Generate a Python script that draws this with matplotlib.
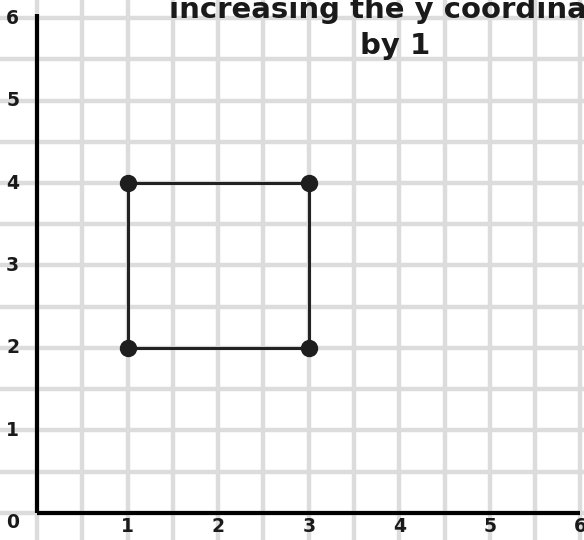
import numpy as np
import matplotlib.pyplot as plt

# vertices of the square (after increasing y by 1)
sq_x = [1, 1, 3, 3]
sq_y = [2, 4, 4, 2]
x_ticks = [1, 2, 3, 4, 5, 6]
y_ticks = [1, 2, 3, 4, 5, 6]
title = 'increasing the y coordinate\nby 1'

fig = plt.figure(figsize=(5.84, 5.40), dpi=100)
ax = fig.add_axes([0, 0, 1, 1])
ax.set_xlim(-0.41, 6.04)
ax.set_ylim(-0.33, 6.22)
ax.axis('off')

# grid every half unit, running past the axes
for g in np.arange(-0.5, 6.6, 0.5):
    ax.axvline(g, color='#dcdcdd', lw=3.2, zorder=0)
    ax.axhline(g, color='#dcdcdd', lw=3.2, zorder=0)

# axes lines
ax.plot([0, 0], [0, 6.05], color='black', lw=3, solid_capstyle='butt', zorder=2)
ax.plot([0, 6], [0, 0], color='black', lw=3, solid_capstyle='butt', zorder=2)

font = dict(fontsize=13.5, fontweight='bold', color='#1a1a1a', family='DejaVu Sans')
for t in x_ticks:
    ax.text(t, -0.17, str(t), ha='center', va='center', **font)
for t in y_ticks:
    ax.text(-0.27, t, str(t), ha='center', va='center', **font)
ax.text(-0.27, -0.12, '0', ha='center', va='center', **font)

# square
px = sq_x + [sq_x[0]]
py = sq_y + [sq_y[0]]
ax.plot(px, py, color='#222222', lw=2.2, zorder=3)
ax.plot(sq_x, sq_y, 'o', color='#1e1e1e', markersize=11.5, zorder=4)

ax.text(3.95, 6.27, title, ha='center', va='top', fontsize=21,
        fontweight='bold', color='#1a1a1a', linespacing=1.35, family='DejaVu Sans')

fig.savefig('out.png', dpi=100)
